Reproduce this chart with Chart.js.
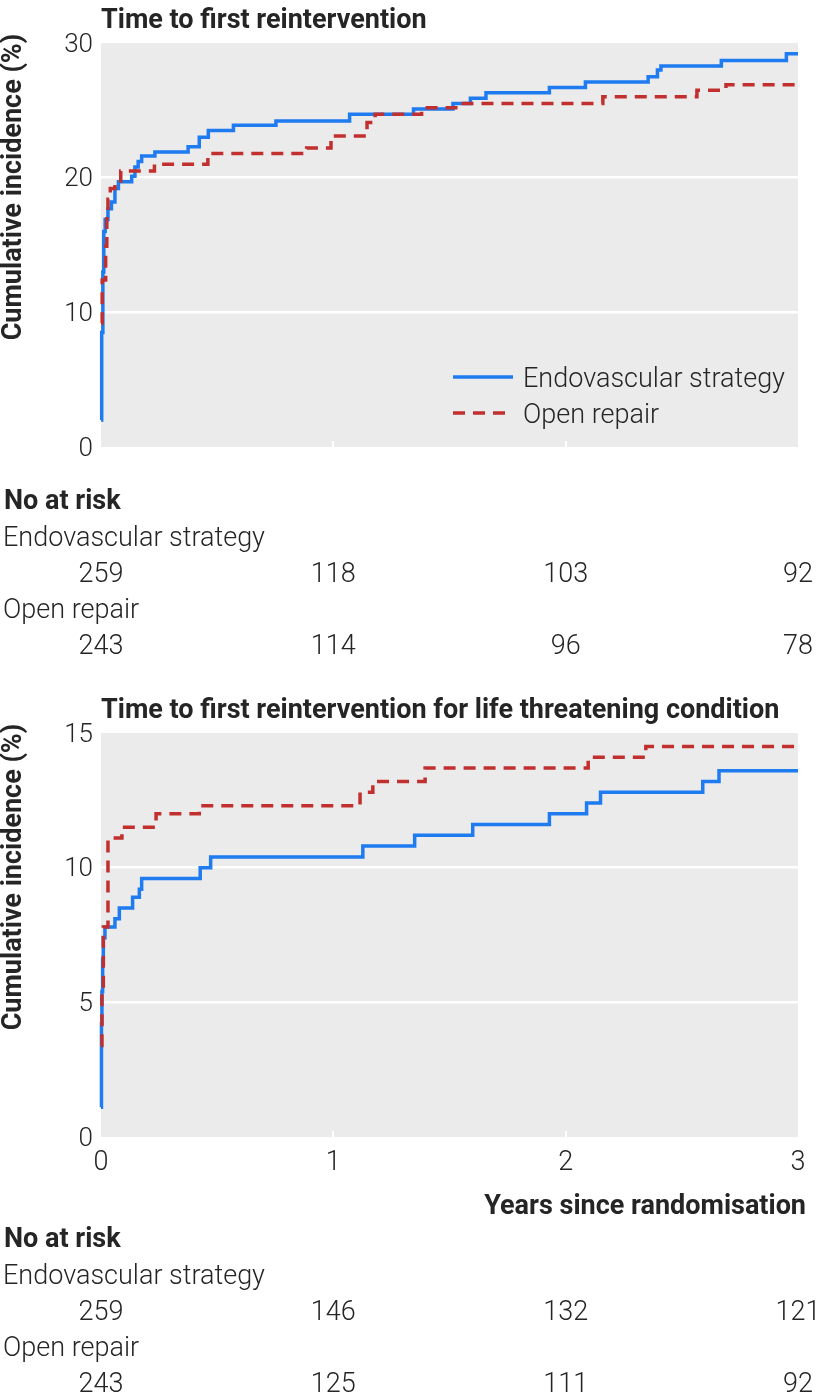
<!DOCTYPE html>
<html>
<head>
<meta charset="utf-8">
<script src="https://cdn.jsdelivr.net/npm/chart.js@4.4.1/dist/chart.umd.min.js"></script>
<style>
  body { margin: 0; background: #fff; }
  .panel { position: relative; width: 824px; }
</style>
</head>
<body>
<div class="panel" style="height:690px"><canvas id="chartAll" width="824" height="690"></canvas></div>
<div class="panel" style="height:710px"><canvas id="chartLife" width="824" height="710"></canvas></div>
<script>
// data: time in years, cumulative incidence in %
const endoTimeAll = [0, 0.003, 0.008, 0.012, 0.018, 0.03, 0.045, 0.06, 0.075, 0.132, 0.146, 0.16, 0.175, 0.232, 0.375, 0.423, 0.462, 0.57, 0.753, 1.07, 1.345, 1.515, 1.59, 1.657, 1.93, 2.085, 2.355, 2.395, 2.41, 2.67, 2.95, 3.0];
const endoIncAll  = [2.0, 8.5, 13.0, 16.0, 16.9, 17.7, 18.2, 19.2, 19.7, 20.1, 20.8, 21.2, 21.6, 21.9, 22.3, 23.0, 23.5, 23.9, 24.2, 24.7, 25.1, 25.5, 25.9, 26.3, 26.7, 27.1, 27.5, 28.0, 28.3, 28.7, 29.2, 29.2];
const openTimeAll = [0, 0.005, 0.02, 0.025, 0.03, 0.04, 0.06, 0.085, 0.23, 0.46, 0.885, 0.99, 1.145, 1.18, 1.38, 1.55, 2.16, 2.565, 2.69, 3.0];
const openIncAll  = [9.2, 12.4, 14.9, 17.3, 18.4, 19.2, 19.6, 20.5, 21.0, 21.8, 22.2, 23.1, 24.1, 24.7, 25.2, 25.5, 26.0, 26.5, 26.9, 26.9];

const endoTimeLife = [0, 0.002, 0.004, 0.007, 0.01, 0.017, 0.06, 0.079, 0.136, 0.165, 0.175, 0.427, 0.472, 1.127, 1.35, 1.6, 1.93, 2.09, 2.15, 2.59, 2.66, 3.0];
const endoIncLife  = [1.1, 4.2, 5.4, 6.6, 7.4, 7.8, 8.1, 8.5, 8.9, 9.2, 9.6, 10.0, 10.4, 10.8, 11.2, 11.6, 12.0, 12.4, 12.8, 13.2, 13.6, 13.6];
const openTimeLife = [0, 0.004, 0.01, 0.03, 0.09, 0.237, 0.423, 1.115, 1.17, 1.395, 2.097, 2.345, 3.0];
const openIncLife  = [3.4, 5.3, 7.8, 11.1, 11.5, 12.0, 12.3, 12.8, 13.2, 13.7, 14.1, 14.5, 14.5];

const riskYears = [0, 1, 2, 3];
const endoRiskAll = [259, 118, 103, 92];
const openRiskAll = [243, 114, 96, 78];
const endoRiskLife = [259, 146, 132, 121];
const openRiskLife = [243, 125, 111, 92];

const seriesNames = ['Endovascular strategy', 'Open repair'];
const blue = '#1f7bf0';
const red = '#c1302f';
const ink = '#252525';
const FONT = 'Roboto';
const dy = 3; // canvas 'middle' sits a bit high for this font

function toPoints(xs, ys) {
    return xs.map((x, i) => ({ x: x, y: ys[i] }));
}

// grey panel + little white ticks at the bottom edge
const panelPlugin = {
    id: 'panel',
    beforeDraw(chart) {
        const a = chart.chartArea, ctx = chart.ctx;
        ctx.save();
        ctx.fillStyle = '#ebebeb';
        ctx.fillRect(a.left, a.top, a.right - a.left, a.bottom - a.top);
        ctx.restore();
    },
    beforeDatasetsDraw(chart) {
        const a = chart.chartArea, ctx = chart.ctx, xs = chart.scales.x;
        ctx.save();
        ctx.strokeStyle = '#ffffff';
        ctx.lineWidth = 2;
        [1, 2].forEach(v => {
            const px = Math.round(xs.getPixelForValue(v));
            ctx.beginPath();
            ctx.moveTo(px, a.bottom);
            ctx.lineTo(px, a.bottom - 6);
            ctx.stroke();
        });
        ctx.restore();
    }
};

// titles, legend and the number at risk table
const textPlugin = {
    id: 'texts',
    afterDraw(chart, args, opts) {
        const ctx = chart.ctx, a = chart.chartArea, xs = chart.scales.x;
        ctx.save();
        ctx.fillStyle = ink;
        ctx.textBaseline = 'middle';

        ctx.font = 'bold 27px ' + FONT;
        ctx.textAlign = 'left';
        ctx.fillText(opts.title, a.left, 18 + dy);

        ctx.save();
        ctx.translate(14, 187);
        ctx.rotate(-Math.PI / 2);
        ctx.textAlign = 'center';
        ctx.fillText('Cumulative incidence (%)', 0, 0);
        ctx.restore();

        if (opts.legend) {
            const lx = 453, ly = 377;
            ctx.lineWidth = 3.5;
            ctx.strokeStyle = blue;
            ctx.beginPath(); ctx.moveTo(lx, ly); ctx.lineTo(lx + 60, ly); ctx.stroke();
            ctx.strokeStyle = red;
            ctx.setLineDash([12, 8]);
            ctx.beginPath(); ctx.moveTo(lx, ly + 36); ctx.lineTo(lx + 60, ly + 36); ctx.stroke();
            ctx.setLineDash([]);
            ctx.font = '300 27px ' + FONT;
            ctx.fillText(seriesNames[0], lx + 70, ly + dy);
            ctx.fillText(seriesNames[1], lx + 70, ly + 36 + dy);
        }

        if (opts.xTitle) {
            ctx.font = 'bold 27px ' + FONT;
            ctx.textAlign = 'right';
            ctx.fillText(opts.xTitle, 806, opts.xTitleY + dy);
        }

        const r = opts.riskTop + dy;
        ctx.textAlign = 'left';
        ctx.font = 'bold 27px ' + FONT;
        ctx.fillText('No at risk', 4, r);
        ctx.font = '300 27px ' + FONT;
        ctx.fillText(seriesNames[0], 3, r + 37);
        ctx.fillText(seriesNames[1], 3, r + 109);
        ctx.textAlign = 'center';
        riskYears.forEach((yr, i) => {
            const px = xs.getPixelForValue(yr);
            ctx.fillText(String(opts.endoRisk[i]), px, r + 73);
            ctx.fillText(String(opts.openRisk[i]), px, r + 145);
        });
        ctx.restore();
    }
};

function makeChart(id, cfg) {
    const lineOpts = {
        pointRadius: 0,
        pointHoverRadius: 0,
        borderWidth: 3.5,
        stepped: true,
        fill: false,
        clip: 6,
        borderCapStyle: 'butt',
        borderJoinStyle: 'miter'
    };
    return new Chart(document.getElementById(id), {
        type: 'line',
        data: {
            datasets: [
                Object.assign({ label: seriesNames[1], data: toPoints(cfg.openTime, cfg.openInc), borderColor: red, borderDash: [12, 8] }, lineOpts),
                Object.assign({ label: seriesNames[0], data: toPoints(cfg.endoTime, cfg.endoInc), borderColor: blue }, lineOpts)
            ]
        },
        options: {
            responsive: false,
            animation: false,
            events: [],
            layout: { padding: { top: 43, right: 26, left: 0, bottom: cfg.padBottom } },
            scales: {
                x: {
                    type: 'linear',
                    min: 0,
                    max: 3,
                    grid: { display: false },
                    border: { display: false },
                    ticks: {
                        display: cfg.showX,
                        stepSize: 1,
                        padding: 2,
                        color: ink,
                        font: { family: FONT, size: 27, weight: '300' }
                    },
                    afterFit(scale) { scale.height = 243; }
                },
                y: {
                    min: 0,
                    max: cfg.yMax,
                    grid: {
                        drawTicks: false,
                        lineWidth: 2.5,
                        color: c => (c.tick && c.tick.value > 0 && c.tick.value < cfg.yMax) ? '#ffffff' : 'rgba(0,0,0,0)'
                    },
                    border: { display: false },
                    ticks: {
                        stepSize: cfg.yMax / 3,
                        padding: 8,
                        labelOffset: 2,
                        color: ink,
                        font: { family: FONT, size: 26, weight: '300' }
                    },
                    afterFit(scale) { scale.width = 101; }
                }
            },
            plugins: {
                legend: { display: false },
                tooltip: { enabled: false },
                texts: cfg.texts
            }
        },
        plugins: [panelPlugin, textPlugin]
    });
}

makeChart('chartAll', {
    endoTime: endoTimeAll, endoInc: endoIncAll,
    openTime: openTimeAll, openInc: openIncAll,
    yMax: 30, showX: false, padBottom: 0,
    texts: {
        title: 'Time to first reintervention',
        legend: true,
        riskTop: 499,
        endoRisk: endoRiskAll, openRisk: openRiskAll
    }
});

makeChart('chartLife', {
    endoTime: endoTimeLife, endoInc: endoIncLife,
    openTime: openTimeLife, openInc: openIncLife,
    yMax: 15, showX: true, padBottom: 20,
    texts: {
        title: 'Time to first reintervention for life threatening condition',
        legend: false,
        xTitle: 'Years since randomisation',
        xTitleY: 514,
        riskTop: 547,
        endoRisk: endoRiskLife, openRisk: openRiskLife
    }
});
</script>
</body>
</html>
